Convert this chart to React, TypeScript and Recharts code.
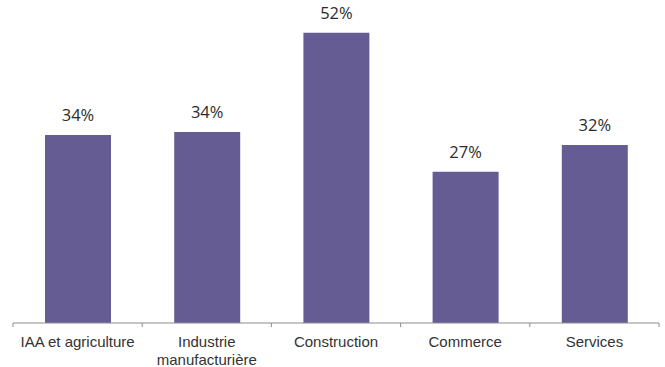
import React from "react";
import { BarChart, Bar, XAxis, YAxis, LabelList } from "recharts";

const categories = [
  "IAA et agriculture",
  "Industrie\nmanufacturière",
  "Construction",
  "Commerce",
  "Services",
];
const values = [33.7, 34.2, 52, 27.1, 31.9];

const data = categories.map((c, i) => ({ name: c, value: values[i] }));

const W = 665;
const H = 367;
const M = { top: 16, right: 6, left: 13, bottom: 0 };
const BAND = (W - M.left - M.right) / categories.length;

const Tick = (props: any) => {
  const { x, y, payload, index } = props;
  const lines = String(payload.value).split("\n");
  return (
    <g>
      <line x1={x - BAND / 2} x2={x - BAND / 2} y1={y - 4} y2={y} stroke="#8c8c8c" strokeWidth={1} />
      {index === categories.length - 1 && (
        <line x1={x + BAND / 2} x2={x + BAND / 2} y1={y - 4} y2={y} stroke="#8c8c8c" strokeWidth={1} />
      )}
      <text
        x={x}
        y={y + 20}
        textAnchor="middle"
        fill="#333"
        fontFamily="'Liberation Sans', Arial, sans-serif"
        fontSize={15}
      >
        {lines.map((l, i) => (
          <tspan key={i} x={x} dy={i === 0 ? 0 : 17.5}>
            {l}
          </tspan>
        ))}
      </text>
    </g>
  );
};

export default function App() {
  return (
    <div style={{ position: "absolute", left: 0, top: 0, background: "#fff" }}>
      <BarChart width={W} height={H} data={data} margin={M}>
        <XAxis
          dataKey="name"
          height={44}
          axisLine={{ stroke: "#8c8c8c", strokeWidth: 1 }}
          tickLine={false}
          tickSize={4}
          tickMargin={0}
          interval={0}
          tick={<Tick />}
        />
        <YAxis hide domain={[0, 55]} />
        <Bar dataKey="value" fill="#665C94" barSize={66} isAnimationActive={false}>
          <LabelList
            dataKey="value"
            position="top"
            offset={14}
            formatter={(v: any) => `${Math.round(Number(v))}%`}
            fill="#2b2b2b"
            fontFamily="'Open Sans', sans-serif"
            fontSize={16.5}
          />
        </Bar>
      </BarChart>
    </div>
  );
}
